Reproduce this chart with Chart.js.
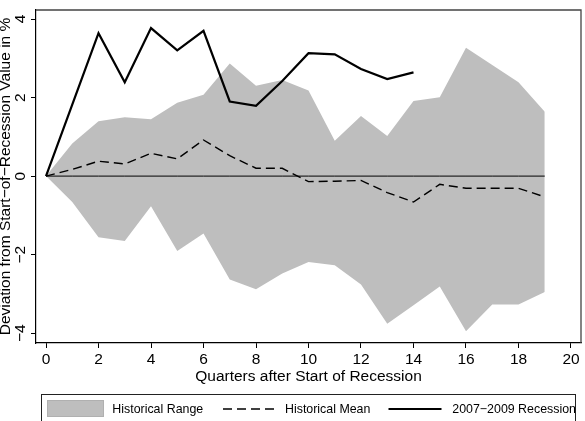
<!DOCTYPE html>
<html>
<head>
<meta charset="utf-8">
<script src="https://cdn.jsdelivr.net/npm/chart.js@4.4.1/dist/chart.umd.min.js"></script>
<style>
  html, body { margin: 0; padding: 0; background: #fff; }
  #c { display: block; }
</style>
</head>
<body>
<canvas id="c" width="585" height="421" style="width:585px;height:421px"></canvas>
<script>
// ---- data ----
const quarters = [0,1,2,3,4,5,6,7,8,9,10,11,12,13,14,15,16,17,18,19];
const rangeUpper = [0, 0.83, 1.40, 1.50, 1.45, 1.87, 2.07, 2.87, 2.30, 2.45, 2.18, 0.90, 1.53, 1.02, 1.91, 2.01, 3.27, 2.83, 2.39, 1.64];
const rangeLower = [0, -0.66, -1.56, -1.65, -0.77, -1.91, -1.46, -2.63, -2.88, -2.48, -2.19, -2.27, -2.76, -3.76, -3.29, -2.81, -3.95, -3.27, -3.27, -2.95];
const historicalMean = [0, 0.17, 0.38, 0.31, 0.58, 0.44, 0.92, 0.52, 0.20, 0.20, -0.14, -0.13, -0.11, -0.42, -0.66, -0.21, -0.31, -0.31, -0.31, -0.53];
const recessionQuarters = [0,1,2,3,4,5,6,7,8,9,10,11,12,13,14];
const recession2007 = [0, 1.82, 3.64, 2.39, 3.77, 3.20, 3.70, 1.90, 1.79, 2.42, 3.13, 3.10, 2.73, 2.47, 2.64];
const zeroLine = [0,0,0,0,0,0,0,0,0,0,0,0,0,0,0,0,0,0,0,0];
const xTicks = [0,2,4,6,8,10,12,14,16,18,20];
const yTicks = [-4,-2,0,2,4];
const legendLabels = ["Historical Range", "Historical Mean", "2007\u22122009 Recession"];
const xTitle = "Quarters after Start of Recession";
const yTitle = "Deviation from Start\u2212of\u2212Recession Value in %";

const pts = (xs, ys) => xs.map((x, i) => ({x: x, y: ys[i]}));
const FILL = 'rgb(190,190,190)';
const FONT = '"Liberation Sans", Arial, Helvetica, sans-serif';
Chart.defaults.font.family = FONT;
Chart.defaults.color = '#000';

const fmtMinus = v => (v < 0 ? '\u2212' + Math.abs(v) : String(v));

const framePlugin = {
  id: 'frameAndLegend',
  afterDraw(chart) {
    const ctx = chart.ctx;
    const a = chart.chartArea;
    ctx.save();
    // plot region outline (top and right)
    ctx.strokeStyle = '#444';
    ctx.lineWidth = 1.3;
    ctx.beginPath();
    ctx.moveTo(a.left, a.top);
    ctx.lineTo(a.right, a.top);
    ctx.lineTo(a.right, a.bottom);
    ctx.stroke();

    // rotated y tick labels (Stata style, reading upward)
    const ys = chart.scales.y;
    ctx.fillStyle = '#000';
    ctx.font = '15.5px ' + FONT;
    ctx.textAlign = 'center';
    ctx.textBaseline = 'middle';
    ys.ticks.forEach(t => {
      const py = ys.getPixelForValue(t.value);
      ctx.save();
      ctx.translate(20.5, py);
      ctx.rotate(-Math.PI / 2);
      ctx.fillText(fmtMinus(t.value), 0, 0);
      ctx.restore();
    });

    // legend box
    const L = 41.5, T = 394.5, R = 575.5, B = 430;
    ctx.strokeStyle = '#222';
    ctx.lineWidth = 1;
    ctx.strokeRect(L, T, R - L, B - T);
    ctx.beginPath();
    ctx.rect(L, T, R - L, B - T);
    ctx.clip();
    const cy = 409;
    ctx.fillStyle = FILL;
    ctx.fillRect(47.5, 400.5, 56, 16);
    ctx.strokeStyle = '#b0b0b0';
    ctx.strokeRect(47.5, 400.5, 56, 16);
    ctx.strokeStyle = '#000';
    ctx.lineWidth = 1.4;
    ctx.setLineDash([9, 5]);
    ctx.beginPath();
    ctx.moveTo(223, cy); ctx.lineTo(275, cy);
    ctx.stroke();
    ctx.setLineDash([]);
    ctx.lineWidth = 2.2;
    ctx.beginPath();
    ctx.moveTo(388.5, cy); ctx.lineTo(441.5, cy);
    ctx.stroke();
    ctx.fillStyle = '#000';
    ctx.font = '12.4px ' + FONT;
    ctx.textBaseline = 'middle';
    ctx.textAlign = 'left';
    ctx.fillText(legendLabels[0], 112.3, cy + 0.5);
    ctx.fillText(legendLabels[1], 285, cy + 0.5);
    ctx.fillText(legendLabels[2], 452.3, cy + 0.5);
    ctx.restore();
  }
};

new Chart(document.getElementById('c'), {
  type: 'line',
  data: {
    datasets: [
      { label: legendLabels[0] + ' upper', data: pts(quarters, rangeUpper), fill: '+1',
        backgroundColor: FILL, borderWidth: 0, borderColor: FILL, pointRadius: 0, tension: 0, order: 5 },
      { label: legendLabels[0] + ' lower', data: pts(quarters, rangeLower), fill: false,
        backgroundColor: FILL, borderWidth: 0, borderColor: FILL, pointRadius: 0, tension: 0, order: 4 },
      { label: 'zero', data: pts(quarters, zeroLine), fill: false,
        borderColor: '#000', borderWidth: 1, pointRadius: 0, tension: 0, order: 3 },
      { label: legendLabels[1], data: pts(quarters, historicalMean), fill: false,
        borderColor: '#000', borderWidth: 1.4, borderDash: [9, 5], pointRadius: 0, tension: 0, order: 2 },
      { label: legendLabels[2], data: pts(recessionQuarters, recession2007), fill: false,
        borderColor: '#000', borderWidth: 2.2, pointRadius: 0, tension: 0, order: 1 }
    ]
  },
  options: {
    responsive: false,
    animation: false,
    events: [],
    layout: { padding: { left: 0, right: 4, top: 10, bottom: 0 } },
    plugins: { legend: { display: false }, tooltip: { enabled: false } },
    scales: {
      x: {
        type: 'linear',
        min: -0.381, max: 20.381,
        afterBuildTicks: s => { s.ticks = xTicks.map(v => ({value: v})); },
        afterFit: s => { s.height = 78; },
        border: { display: true, color: '#000', width: 1.2 },
        grid: { display: true, drawOnChartArea: false, drawTicks: true, tickLength: 5, color: '#000', lineWidth: 1 },
        ticks: { font: { size: 15.5 }, color: '#000', padding: 2, maxRotation: 0, minRotation: 0,
                 callback: v => fmtMinus(v) },
        title: { display: true, text: xTitle, font: { size: 15.5 }, color: '#000',
                 padding: { top: 0, bottom: 35 } }
      },
      y: {
        type: 'linear',
        min: -4.25, max: 4.23,
        afterBuildTicks: s => { s.ticks = yTicks.map(v => ({value: v})); },
        afterFit: s => { s.width = 36; },
        border: { display: true, color: '#000', width: 1.2 },
        grid: { display: true, drawOnChartArea: false, drawTicks: true, tickLength: 5, color: '#000', lineWidth: 1 },
        ticks: { display: false },
        title: { display: true, text: yTitle, font: { size: 15.5, lineHeight: 0.75 }, color: '#000',
                 padding: 0 }
      }
    }
  },
  plugins: [framePlugin]
});
</script>
</body>
</html>
